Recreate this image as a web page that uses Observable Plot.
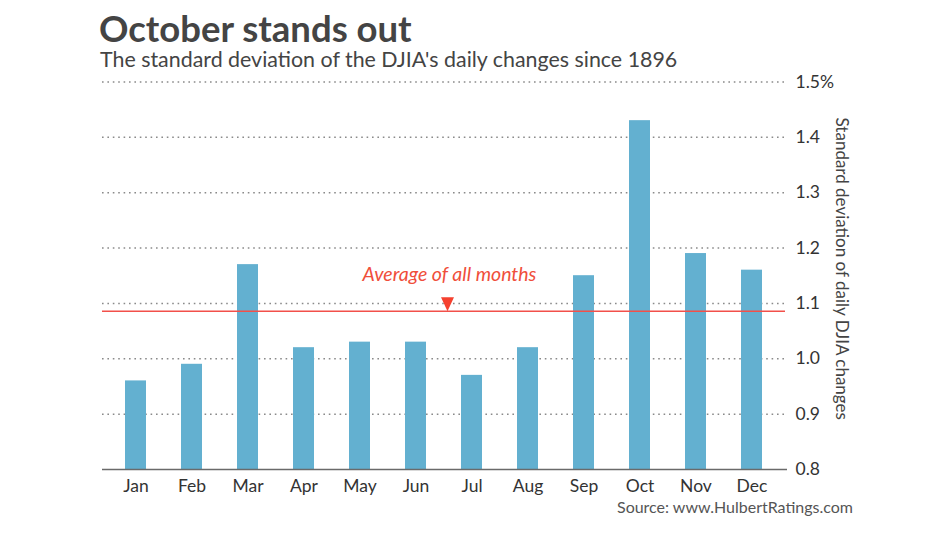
<!DOCTYPE html>
<html>
<head>
<meta charset="utf-8">
<script src="https://cdn.jsdelivr.net/npm/d3@7"></script>
<script src="https://cdn.jsdelivr.net/npm/@observablehq/plot@0.6"></script>
<style>
  body { margin: 0; background: #fff; font-family: Lato, sans-serif; }
  #wrap { position: relative; width: 949px; height: 535px; overflow: hidden; background: #fff; }
  #title { position: absolute; left: 99px; top: 10.5px; font-size: 36.5px; line-height: 35px; font-weight: 700; color: #444; white-space: nowrap; }
  #subtitle { position: absolute; left: 100px; top: 49px; font-size: 21.4px; line-height: 21px; color: #444; white-space: nowrap; }
  #chart { position: absolute; left: 0; top: 72px; }
  #source { position: absolute; right: 96px; top: 498.8px; font-size: 16px; line-height: 16px; color: #555; white-space: nowrap; z-index: 2; }
</style>
</head>
<body>
<div id="wrap">
  <div id="title">October stands out</div>
  <div id="subtitle">The standard deviation of the DJIA's daily changes since 1896</div>
  <div id="chart"></div>
  <div id="source">Source: www.HulbertRatings.com</div>
</div>
<script>
const months = ["Jan", "Feb", "Mar", "Apr", "May", "Jun", "Jul", "Aug", "Sep", "Oct", "Nov", "Dec"];
const values = [0.96, 0.99, 1.17, 1.02, 1.03, 1.03, 0.97, 1.02, 1.15, 1.43, 1.19, 1.16];
const average = [1.086];
const averageLabel = "Average of all months";
const yTicks = [0.8, 0.9, 1.0, 1.1, 1.2, 1.3, 1.4, 1.5];
const yTickLabels = ["0.8", "0.9", "1.0", "1.1", "1.2", "1.3", "1.4", "1.5%"];
const gridTicks = [0.9, 1.0, 1.1, 1.2, 1.3, 1.4, 1.5];
const yAxisTitle = "Standard deviation of daily DJIA changes";

const data = months.map((m, i) => ({month: m, value: values[i]}));

const downTriangle = {
  draw(ctx) {
    ctx.moveTo(-6.5, -14);
    ctx.lineTo(6.5, -14);
    ctx.lineTo(0, 0);
    ctx.closePath();
  }
};

const plot = Plot.plot({
  width: 949,
  height: 430,
  marginTop: 9.4,
  marginBottom: 33,
  marginLeft: 102,
  marginRight: 164,
  style: {fontFamily: "Lato, sans-serif", fontSize: "16px", background: "transparent"},
  x: {domain: months, paddingInner: 0.62, paddingOuter: 0.31, insetLeft: 4.9, insetRight: 4.2, label: null},
  y: {domain: [0.8, 1.5], label: null},
  marks: [
    Plot.ruleY(gridTicks, {stroke: "#8a8a8a", strokeWidth: 1.5, strokeDasharray: "1.6,3.8"}),
    Plot.barY(data, {x: "month", y1: 0.8, y2: "value", fill: "#63b0d0"}),
    Plot.ruleY([0.8], {stroke: "#6a6a6a", strokeWidth: 1.5, insetRight: -2}),
    Plot.ruleY(average, {stroke: "#f2504a", strokeWidth: 1.5}),
    Plot.dot(average, {y: d => d, frameAnchor: "middle", dx: 3.5, symbol: downTriangle, fill: "#f5412f", stroke: null, r: 5}),
    Plot.text(average, {y: d => d, frameAnchor: "middle", dx: 5.5, dy: -36.2, text: () => averageLabel, fill: "#f04e3a", fontSize: 19.5, fontStyle: "italic"}),
    Plot.axisX({tickSize: 0, tickPadding: 9.9, fontSize: 17.5, fill: "#333", label: null}),
    Plot.axisY({anchor: "right", ticks: yTicks, tickFormat: d => yTickLabels[yTicks.findIndex(t => Math.abs(t - d) < 1e-9)], tickSize: 0, tickPadding: 10, fontSize: 17.5, fill: "#333", label: null}),
    Plot.text([yAxisTitle], {frameAnchor: "right", dx: 56, dy: -7, rotate: 90, text: d => d, fontSize: 17, fill: "#444", textAnchor: "middle"})
  ]
});
document.getElementById("chart").appendChild(plot);
</script>
</body>
</html>
